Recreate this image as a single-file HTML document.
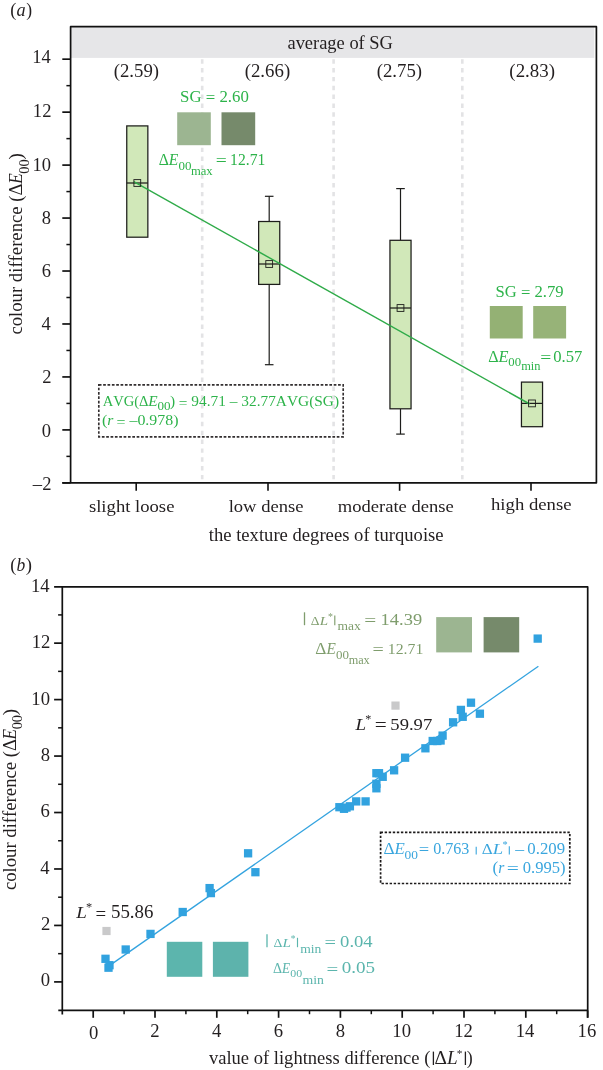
<!DOCTYPE html>
<html><head><meta charset="utf-8"><title>chart</title>
<style>html,body{margin:0;padding:0;background:#fff}svg{display:block;will-change:transform}text{font-family:"Liberation Serif",serif;font-kerning:none;font-variant-ligatures:none}</style></head>
<body>
<svg width="603" height="1070" viewBox="0 0 603 1070">
<rect width="603" height="1070" fill="#ffffff"/>
<rect x="70.60" y="26.70" width="523.70" height="31.20" fill="#e6e6e8"/>
<line x1="202.20" y1="59.20" x2="202.20" y2="482.80" stroke="#e3e3e5" stroke-width="2.6" stroke-dasharray="4.45 4.395"/>
<line x1="333.60" y1="59.20" x2="333.60" y2="482.80" stroke="#e3e3e5" stroke-width="2.6" stroke-dasharray="4.45 4.395"/>
<line x1="462.30" y1="59.20" x2="462.30" y2="482.80" stroke="#e3e3e5" stroke-width="2.6" stroke-dasharray="4.45 4.395"/>
<line x1="269.20" y1="196.30" x2="269.20" y2="221.50" stroke="#1d1d1b" stroke-width="1.2"/>
<line x1="269.20" y1="284.40" x2="269.20" y2="364.70" stroke="#1d1d1b" stroke-width="1.2"/>
<line x1="264.90" y1="196.30" x2="273.50" y2="196.30" stroke="#1d1d1b" stroke-width="1.2"/>
<line x1="264.90" y1="364.70" x2="273.50" y2="364.70" stroke="#1d1d1b" stroke-width="1.2"/>
<line x1="400.50" y1="188.60" x2="400.50" y2="240.30" stroke="#1d1d1b" stroke-width="1.2"/>
<line x1="400.50" y1="408.80" x2="400.50" y2="434.10" stroke="#1d1d1b" stroke-width="1.2"/>
<line x1="396.20" y1="188.60" x2="404.80" y2="188.60" stroke="#1d1d1b" stroke-width="1.2"/>
<line x1="396.20" y1="434.10" x2="404.80" y2="434.10" stroke="#1d1d1b" stroke-width="1.2"/>
<rect x="126.75" y="125.90" width="21.10" height="111.30" fill="#d1e8b9" stroke="#1d1d1b" stroke-width="1.25"/>
<line x1="126.75" y1="183.00" x2="147.85" y2="183.00" stroke="#1d1d1b" stroke-width="1.25"/>
<rect x="258.65" y="221.50" width="21.10" height="62.90" fill="#d1e8b9" stroke="#1d1d1b" stroke-width="1.25"/>
<line x1="258.65" y1="264.00" x2="279.75" y2="264.00" stroke="#1d1d1b" stroke-width="1.25"/>
<rect x="389.95" y="240.30" width="21.10" height="168.50" fill="#d1e8b9" stroke="#1d1d1b" stroke-width="1.25"/>
<line x1="389.95" y1="308.00" x2="411.05" y2="308.00" stroke="#1d1d1b" stroke-width="1.25"/>
<rect x="521.45" y="382.10" width="21.10" height="44.60" fill="#d1e8b9" stroke="#1d1d1b" stroke-width="1.25"/>
<line x1="521.45" y1="403.40" x2="542.55" y2="403.40" stroke="#1d1d1b" stroke-width="1.25"/>
<line x1="133.80" y1="181.60" x2="529.60" y2="404.00" stroke="#2fab49" stroke-width="1.45"/>
<rect x="133.90" y="179.60" width="6.80" height="6.80" fill="none" stroke="#1d1d1b" stroke-width="0.9"/>
<rect x="265.80" y="260.60" width="6.80" height="6.80" fill="none" stroke="#1d1d1b" stroke-width="0.9"/>
<rect x="397.10" y="304.60" width="6.80" height="6.80" fill="none" stroke="#1d1d1b" stroke-width="0.9"/>
<rect x="528.60" y="400.00" width="6.80" height="6.80" fill="none" stroke="#1d1d1b" stroke-width="0.9"/>
<rect x="177.20" y="112.30" width="33.60" height="32.90" fill="#9cb591"/>
<rect x="221.50" y="112.30" width="33.70" height="32.90" fill="#768a6b"/>
<rect x="489.80" y="306.00" width="32.90" height="32.50" fill="#94b174"/>
<rect x="533.20" y="306.00" width="32.90" height="32.50" fill="#97b378"/>
<path d="M62.30,482.80 L596.40,482.80 L596.40,26.70 L70.60,26.70 L70.60,482.80" fill="none" stroke="#111111" stroke-width="1.7" stroke-linejoin="round"/>
<line x1="62.30" y1="482.86" x2="70.60" y2="482.86" stroke="#111111" stroke-width="1.7"/>
<line x1="66.40" y1="456.38" x2="70.60" y2="456.38" stroke="#111111" stroke-width="1.5"/>
<line x1="62.30" y1="429.90" x2="70.60" y2="429.90" stroke="#111111" stroke-width="1.7"/>
<line x1="66.40" y1="403.42" x2="70.60" y2="403.42" stroke="#111111" stroke-width="1.5"/>
<line x1="62.30" y1="376.94" x2="70.60" y2="376.94" stroke="#111111" stroke-width="1.7"/>
<line x1="66.40" y1="350.46" x2="70.60" y2="350.46" stroke="#111111" stroke-width="1.5"/>
<line x1="62.30" y1="323.98" x2="70.60" y2="323.98" stroke="#111111" stroke-width="1.7"/>
<line x1="66.40" y1="297.50" x2="70.60" y2="297.50" stroke="#111111" stroke-width="1.5"/>
<line x1="62.30" y1="271.02" x2="70.60" y2="271.02" stroke="#111111" stroke-width="1.7"/>
<line x1="66.40" y1="244.54" x2="70.60" y2="244.54" stroke="#111111" stroke-width="1.5"/>
<line x1="62.30" y1="218.06" x2="70.60" y2="218.06" stroke="#111111" stroke-width="1.7"/>
<line x1="66.40" y1="191.58" x2="70.60" y2="191.58" stroke="#111111" stroke-width="1.5"/>
<line x1="62.30" y1="165.10" x2="70.60" y2="165.10" stroke="#111111" stroke-width="1.7"/>
<line x1="66.40" y1="138.62" x2="70.60" y2="138.62" stroke="#111111" stroke-width="1.5"/>
<line x1="62.30" y1="112.14" x2="70.60" y2="112.14" stroke="#111111" stroke-width="1.7"/>
<line x1="66.40" y1="85.66" x2="70.60" y2="85.66" stroke="#111111" stroke-width="1.5"/>
<line x1="62.30" y1="59.18" x2="70.60" y2="59.18" stroke="#111111" stroke-width="1.7"/>
<line x1="136.20" y1="482.80" x2="136.20" y2="490.80" stroke="#111111" stroke-width="1.6"/>
<line x1="268.00" y1="482.80" x2="268.00" y2="490.80" stroke="#111111" stroke-width="1.6"/>
<line x1="399.60" y1="482.80" x2="399.60" y2="490.80" stroke="#111111" stroke-width="1.6"/>
<line x1="531.00" y1="482.80" x2="531.00" y2="490.80" stroke="#111111" stroke-width="1.6"/>
<text transform="translate(32.13,63.30) scale(1.0200,1)" font-size="18.2" fill="#231f20">14</text>
<text transform="translate(32.86,117.20) scale(1.0200,1)" font-size="18.2" fill="#231f20">12</text>
<text transform="translate(32.54,170.50) scale(1.0200,1)" font-size="18.2" fill="#231f20">10</text>
<text transform="translate(41.83,224.00) scale(1.0200,1)" font-size="18.2" fill="#231f20">8</text>
<text transform="translate(41.67,277.00) scale(1.0200,1)" font-size="18.2" fill="#231f20">6</text>
<text transform="translate(41.41,330.20) scale(1.0200,1)" font-size="18.2" fill="#231f20">4</text>
<text transform="translate(42.14,383.40) scale(1.0200,1)" font-size="18.2" fill="#231f20">2</text>
<text transform="translate(41.83,436.60) scale(1.0200,1)" font-size="18.2" fill="#231f20">0</text>
<text transform="translate(32.86,490.00) scale(1.0200,1)" font-size="18.2" fill="#231f20">–2</text>
<text transform="translate(10.20,15.50) scale(1.0166,1)" font-size="18" fill="#231f20">(</text>
<text transform="translate(16.56,15.90) scale(0.9924,1)" font-size="18.4" font-style="italic" fill="#231f20">a</text>
<text transform="translate(26.24,15.50) scale(0.9734,1)" font-size="18" fill="#231f20">)</text>
<text transform="translate(287.45,49.00) scale(1.0250,1)" font-size="18.0" fill="#231f20">average of SG</text>
<text transform="translate(113.68,76.90) scale(1.0201,1)" font-size="18.4" fill="#231f20">(2.59)</text>
<text transform="translate(244.67,76.90) scale(1.0248,1)" font-size="18.4" fill="#231f20">(2.66)</text>
<text transform="translate(376.67,76.90) scale(1.0225,1)" font-size="18.4" fill="#231f20">(2.75)</text>
<text transform="translate(509.37,76.90) scale(1.0271,1)" font-size="18.4" fill="#231f20">(2.83)</text>
<text transform="translate(88.93,511.90) scale(1.0784,1)" font-size="17.3" fill="#231f20">slight loose</text>
<text transform="translate(228.63,511.90) scale(1.0754,1)" font-size="17.3" fill="#231f20">low dense</text>
<text transform="translate(337.71,511.90) scale(1.0746,1)" font-size="17.3" fill="#231f20">moderate dense</text>
<text transform="translate(491.02,509.50) scale(1.0814,1)" font-size="17.3" fill="#231f20">high dense</text>
<text transform="translate(208.72,540.80) scale(1.0248,1)" font-size="18.2" fill="#231f20">the texture degrees of turquoise</text>
<text transform="translate(22.20,334.61) rotate(-90) scale(1.0167,1)" font-size="18.4" fill="#231f20">colour difference (Δ</text>
<text transform="translate(22.20,184.09) rotate(-90) scale(0.9679,1)" font-size="18.4" font-style="italic" fill="#231f20">E</text>
<text transform="translate(28.50,173.75) rotate(-90) scale(1.0283,1)" font-size="14.0" fill="#231f20">00</text>
<text transform="translate(22.20,159.60) rotate(-90) scale(1.0157,1)" font-size="18.4" fill="#231f20">)</text>
<text transform="translate(180.07,101.80) scale(1.0017,1)" font-size="16.8" fill="#2db34a">SG <tspan dy="1.3">=</tspan><tspan dy="-1.3"> 2.60</tspan></text>
<text transform="translate(158.70,165.10) scale(0.9565,1)" font-size="16.4" fill="#2db34a">Δ</text>
<text transform="translate(168.68,165.10) scale(0.9552,1)" font-size="16.4" font-style="italic" fill="#2db34a">E</text>
<text transform="translate(178.41,169.80) scale(1.0475,1)" font-size="12.4" fill="#2db34a">00</text>
<text transform="translate(190.94,175.00) scale(1.0092,1)" font-size="12.5" fill="#2db34a">max</text>
<text transform="translate(215.63,165.10) scale(1.1781,1)" font-size="16.6" fill="#2db34a"><tspan dy="1.3">=</tspan></text>
<text transform="translate(230.12,165.10) scale(0.9782,1)" font-size="16.0" fill="#2db34a">12.71</text>
<text transform="translate(495.49,296.60) scale(0.9905,1)" font-size="16.8" fill="#2db34a">SG <tspan dy="1.3">=</tspan><tspan dy="-1.3"> 2.79</tspan></text>
<text transform="translate(488.29,361.50) scale(0.9780,1)" font-size="16.4" fill="#2db34a">Δ</text>
<text transform="translate(498.59,361.50) scale(0.9954,1)" font-size="16.4" font-style="italic" fill="#2db34a">E</text>
<text transform="translate(508.31,366.20) scale(1.0301,1)" font-size="12.4" fill="#2db34a">00</text>
<text transform="translate(521.14,370.40) scale(0.9950,1)" font-size="12.5" fill="#2db34a">min</text>
<text transform="translate(540.23,361.50) scale(1.1781,1)" font-size="16.6" fill="#2db34a"><tspan dy="1.3">=</tspan></text>
<text transform="translate(553.27,361.50) scale(1.0144,1)" font-size="16.4" fill="#2db34a">0.57</text>
<rect x="98.8" y="384.8" width="244.4" height="52.0" fill="none" stroke="#332f30" stroke-width="1.65" stroke-dasharray="2.7 1.65"/>
<text transform="translate(102.66,406.30) scale(0.9545,1)" font-size="15.3" fill="#2db34a">AVG(Δ</text>
<text transform="translate(148.18,406.30) scale(1.0023,1)" font-size="15.3" font-style="italic" fill="#2db34a">E</text>
<text transform="translate(157.40,410.30) scale(1.0915,1)" font-size="12.0" fill="#2db34a">00</text>
<text transform="translate(169.90,406.30) scale(1.0045,1)" font-size="15.3" fill="#2db34a">) <tspan dy="1.3">=</tspan><tspan dy="-1.3"> 94.71 – 32.77AVG(SG)</tspan></text>
<text transform="translate(102.08,425.40) scale(1.0688,1)" font-size="15.3" fill="#2db34a">(</text>
<text transform="translate(107.37,425.40) scale(1.0225,1)" font-size="15.3" font-style="italic" fill="#2db34a">r</text>
<text transform="translate(116.51,425.40) scale(1.0397,1)" font-size="15.3" fill="#2db34a"><tspan dy="1.3">=</tspan><tspan dy="-1.3"> –0.978)</tspan></text>
<line x1="109.80" y1="965.40" x2="538.40" y2="666.20" stroke="#33a3df" stroke-width="1.3"/>
<rect x="243.95" y="849.15" width="8.30" height="8.30" fill="#31a2df"/>
<rect x="251.25" y="868.05" width="8.30" height="8.30" fill="#31a2df"/>
<rect x="205.45" y="883.95" width="8.30" height="8.30" fill="#31a2df"/>
<rect x="206.75" y="888.95" width="8.30" height="8.30" fill="#31a2df"/>
<rect x="178.55" y="907.85" width="8.30" height="8.30" fill="#31a2df"/>
<rect x="146.35" y="929.75" width="8.30" height="8.30" fill="#31a2df"/>
<rect x="121.55" y="945.35" width="8.30" height="8.30" fill="#31a2df"/>
<rect x="101.35" y="954.65" width="8.30" height="8.30" fill="#31a2df"/>
<rect x="105.35" y="961.05" width="8.30" height="8.30" fill="#31a2df"/>
<rect x="104.35" y="963.55" width="8.30" height="8.30" fill="#31a2df"/>
<rect x="400.95" y="753.55" width="8.30" height="8.30" fill="#31a2df"/>
<rect x="389.95" y="766.15" width="8.30" height="8.30" fill="#31a2df"/>
<rect x="372.25" y="769.05" width="8.30" height="8.30" fill="#31a2df"/>
<rect x="374.85" y="769.05" width="8.30" height="8.30" fill="#31a2df"/>
<rect x="378.55" y="772.65" width="8.30" height="8.30" fill="#31a2df"/>
<rect x="372.25" y="779.65" width="8.30" height="8.30" fill="#31a2df"/>
<rect x="372.25" y="784.15" width="8.30" height="8.30" fill="#31a2df"/>
<rect x="361.45" y="797.25" width="8.30" height="8.30" fill="#31a2df"/>
<rect x="352.05" y="797.25" width="8.30" height="8.30" fill="#31a2df"/>
<rect x="335.25" y="803.05" width="8.30" height="8.30" fill="#31a2df"/>
<rect x="339.85" y="804.65" width="8.30" height="8.30" fill="#31a2df"/>
<rect x="345.75" y="802.15" width="8.30" height="8.30" fill="#31a2df"/>
<rect x="342.35" y="803.45" width="8.30" height="8.30" fill="#31a2df"/>
<rect x="421.25" y="744.15" width="8.30" height="8.30" fill="#31a2df"/>
<rect x="428.55" y="736.85" width="8.30" height="8.30" fill="#31a2df"/>
<rect x="433.15" y="736.85" width="8.30" height="8.30" fill="#31a2df"/>
<rect x="436.45" y="736.35" width="8.30" height="8.30" fill="#31a2df"/>
<rect x="438.45" y="731.45" width="8.30" height="8.30" fill="#31a2df"/>
<rect x="448.95" y="718.15" width="8.30" height="8.30" fill="#31a2df"/>
<rect x="456.75" y="705.75" width="8.30" height="8.30" fill="#31a2df"/>
<rect x="458.55" y="712.65" width="8.30" height="8.30" fill="#31a2df"/>
<rect x="466.85" y="698.55" width="8.30" height="8.30" fill="#31a2df"/>
<rect x="475.75" y="709.55" width="8.30" height="8.30" fill="#31a2df"/>
<rect x="533.55" y="634.45" width="8.30" height="8.30" fill="#31a2df"/>
<rect x="102.40" y="926.90" width="8.20" height="8.20" fill="#c9c9ca"/>
<rect x="391.40" y="701.50" width="8.20" height="8.20" fill="#c9c9ca"/>
<rect x="436.20" y="617.10" width="35.80" height="35.30" fill="#9cb591"/>
<rect x="483.60" y="617.10" width="35.60" height="35.30" fill="#768a6b"/>
<rect x="166.80" y="941.80" width="35.50" height="35.00" fill="#5cb5ad"/>
<rect x="212.90" y="941.80" width="35.50" height="35.00" fill="#5db3ac"/>
<path d="M54.10,586.90 L587.70,586.90 L587.70,1017.80 M587.70,1010.40 L58.30,1010.40 M62.30,1014.40 L62.30,586.90" fill="none" stroke="#111111" stroke-width="1.7" stroke-linejoin="round"/>
<line x1="54.10" y1="981.90" x2="62.30" y2="981.90" stroke="#111111" stroke-width="1.7"/>
<line x1="58.10" y1="953.67" x2="62.30" y2="953.67" stroke="#111111" stroke-width="1.5"/>
<line x1="54.10" y1="925.44" x2="62.30" y2="925.44" stroke="#111111" stroke-width="1.7"/>
<line x1="58.10" y1="897.21" x2="62.30" y2="897.21" stroke="#111111" stroke-width="1.5"/>
<line x1="54.10" y1="868.98" x2="62.30" y2="868.98" stroke="#111111" stroke-width="1.7"/>
<line x1="58.10" y1="840.75" x2="62.30" y2="840.75" stroke="#111111" stroke-width="1.5"/>
<line x1="54.10" y1="812.52" x2="62.30" y2="812.52" stroke="#111111" stroke-width="1.7"/>
<line x1="58.10" y1="784.29" x2="62.30" y2="784.29" stroke="#111111" stroke-width="1.5"/>
<line x1="54.10" y1="756.06" x2="62.30" y2="756.06" stroke="#111111" stroke-width="1.7"/>
<line x1="58.10" y1="727.83" x2="62.30" y2="727.83" stroke="#111111" stroke-width="1.5"/>
<line x1="54.10" y1="699.60" x2="62.30" y2="699.60" stroke="#111111" stroke-width="1.7"/>
<line x1="58.10" y1="671.37" x2="62.30" y2="671.37" stroke="#111111" stroke-width="1.5"/>
<line x1="54.10" y1="643.14" x2="62.30" y2="643.14" stroke="#111111" stroke-width="1.7"/>
<line x1="58.10" y1="614.91" x2="62.30" y2="614.91" stroke="#111111" stroke-width="1.5"/>
<line x1="93.20" y1="1010.40" x2="93.20" y2="1017.80" stroke="#111111" stroke-width="1.7"/>
<line x1="124.10" y1="1010.40" x2="124.10" y2="1014.20" stroke="#111111" stroke-width="1.5"/>
<line x1="155.00" y1="1010.40" x2="155.00" y2="1017.80" stroke="#111111" stroke-width="1.7"/>
<line x1="185.90" y1="1010.40" x2="185.90" y2="1014.20" stroke="#111111" stroke-width="1.5"/>
<line x1="216.80" y1="1010.40" x2="216.80" y2="1017.80" stroke="#111111" stroke-width="1.7"/>
<line x1="247.70" y1="1010.40" x2="247.70" y2="1014.20" stroke="#111111" stroke-width="1.5"/>
<line x1="278.60" y1="1010.40" x2="278.60" y2="1017.80" stroke="#111111" stroke-width="1.7"/>
<line x1="309.50" y1="1010.40" x2="309.50" y2="1014.20" stroke="#111111" stroke-width="1.5"/>
<line x1="340.40" y1="1010.40" x2="340.40" y2="1017.80" stroke="#111111" stroke-width="1.7"/>
<line x1="371.30" y1="1010.40" x2="371.30" y2="1014.20" stroke="#111111" stroke-width="1.5"/>
<line x1="402.20" y1="1010.40" x2="402.20" y2="1017.80" stroke="#111111" stroke-width="1.7"/>
<line x1="433.10" y1="1010.40" x2="433.10" y2="1014.20" stroke="#111111" stroke-width="1.5"/>
<line x1="464.00" y1="1010.40" x2="464.00" y2="1017.80" stroke="#111111" stroke-width="1.7"/>
<line x1="494.90" y1="1010.40" x2="494.90" y2="1014.20" stroke="#111111" stroke-width="1.5"/>
<line x1="525.80" y1="1010.40" x2="525.80" y2="1017.80" stroke="#111111" stroke-width="1.7"/>
<line x1="556.70" y1="1010.40" x2="556.70" y2="1014.20" stroke="#111111" stroke-width="1.5"/>
<line x1="587.60" y1="1010.40" x2="587.60" y2="1017.80" stroke="#111111" stroke-width="1.7"/>
<text transform="translate(40.68,986.40) scale(1.0200,1)" font-size="18.3" fill="#231f20">0</text>
<text transform="translate(41.00,930.07) scale(1.0200,1)" font-size="18.3" fill="#231f20">2</text>
<text transform="translate(40.26,873.74) scale(1.0200,1)" font-size="18.3" fill="#231f20">4</text>
<text transform="translate(40.52,817.42) scale(1.0200,1)" font-size="18.3" fill="#231f20">6</text>
<text transform="translate(40.68,761.09) scale(1.0200,1)" font-size="18.3" fill="#231f20">8</text>
<text transform="translate(31.34,704.76) scale(1.0200,1)" font-size="18.3" fill="#231f20">10</text>
<text transform="translate(31.66,648.43) scale(1.0200,1)" font-size="18.3" fill="#231f20">12</text>
<text transform="translate(30.93,592.10) scale(1.0200,1)" font-size="18.3" fill="#231f20">14</text>
<text transform="translate(89.03,1038.50) scale(1.0200,1)" font-size="18.3" fill="#231f20">0</text>
<text transform="translate(150.34,1037.00) scale(1.0200,1)" font-size="18.3" fill="#231f20">2</text>
<text transform="translate(212.00,1037.00) scale(1.0200,1)" font-size="18.3" fill="#231f20">4</text>
<text transform="translate(273.71,1037.00) scale(1.0200,1)" font-size="18.3" fill="#231f20">6</text>
<text transform="translate(335.63,1037.00) scale(1.0200,1)" font-size="18.3" fill="#231f20">8</text>
<text transform="translate(392.30,1037.00) scale(1.0200,1)" font-size="18.3" fill="#231f20">10</text>
<text transform="translate(454.26,1037.00) scale(1.0200,1)" font-size="18.3" fill="#231f20">12</text>
<text transform="translate(515.69,1037.00) scale(1.0200,1)" font-size="18.3" fill="#231f20">14</text>
<text transform="translate(577.62,1037.00) scale(1.0200,1)" font-size="18.3" fill="#231f20">16</text>
<text transform="translate(10.20,571.20) scale(1.0166,1)" font-size="18" fill="#231f20">(</text>
<text transform="translate(16.45,571.10) scale(0.9548,1)" font-size="18.4" font-style="italic" fill="#231f20">b</text>
<text transform="translate(25.80,571.20) scale(1.0383,1)" font-size="18" fill="#231f20">)</text>
<text transform="translate(16.00,890.11) rotate(-90) scale(1.0161,1)" font-size="18.4" fill="#231f20">colour difference (Δ</text>
<text transform="translate(16.00,739.69) rotate(-90) scale(0.9679,1)" font-size="18.4" font-style="italic" fill="#231f20">E</text>
<text transform="translate(22.20,729.35) rotate(-90) scale(1.0283,1)" font-size="14.0" fill="#231f20">00</text>
<text transform="translate(16.00,715.20) rotate(-90) scale(1.0157,1)" font-size="18.4" fill="#231f20">)</text>
<text transform="translate(208.90,1063.80) scale(1.0193,1)" font-size="18.2" fill="#231f20">value of lightness difference (</text>
<line x1="433.40" y1="1051.60" x2="433.40" y2="1065.00" stroke="#231f20" stroke-width="1.3"/>
<text transform="translate(434.46,1063.80) scale(1.0771,1)" font-size="18.0" fill="#231f20">Δ</text>
<text transform="translate(447.03,1063.80) scale(1.0673,1)" font-size="18.0" font-style="italic" fill="#231f20">L</text>
<text transform="translate(456.74,1057.37) scale(0.9996,1)" font-size="11.41" fill="#231f20">*</text>
<line x1="465.40" y1="1051.60" x2="465.40" y2="1065.00" stroke="#231f20" stroke-width="1.3"/>
<text transform="translate(466.82,1063.80) scale(0.9841,1)" font-size="18.2" fill="#231f20">)</text>
<text transform="translate(76.32,918.40) scale(1.0807,1)" font-size="17.6" font-style="italic" fill="#231f20">L</text>
<text transform="translate(85.89,911.02) scale(0.9998,1)" font-size="12.4" fill="#231f20">*</text>
<text transform="translate(95.56,918.40) scale(1.0617,1)" font-size="17.8" fill="#231f20"><tspan dy="1.3">=</tspan><tspan dy="-1.3"> 55.86</tspan></text>
<text transform="translate(355.52,729.50) scale(1.0807,1)" font-size="17.6" font-style="italic" fill="#231f20">L</text>
<text transform="translate(365.21,722.86) scale(0.9999,1)" font-size="12.15" fill="#231f20">*</text>
<text transform="translate(374.64,729.50) scale(1.1952,1)" font-size="17.8" fill="#231f20"><tspan dy="1.3">=</tspan></text>
<text transform="translate(390.32,729.50) scale(1.0586,1)" font-size="17.6" fill="#231f20">59.97</text>
<line x1="304.50" y1="612.30" x2="304.50" y2="625.20" stroke="#7f9d6d" stroke-width="1.3"/>
<text transform="translate(310.78,624.70) scale(1.0602,1)" font-size="12.8" fill="#7f9d6d">Δ</text>
<text transform="translate(319.78,624.70) scale(1.1707,1)" font-size="12.8" font-style="italic" fill="#7f9d6d">L</text>
<text transform="translate(327.92,619.59) scale(0.9998,1)" font-size="9.92" fill="#7f9d6d">*</text>
<line x1="334.80" y1="615.50" x2="334.80" y2="625.20" stroke="#7f9d6d" stroke-width="1.15"/>
<text transform="translate(337.52,630.20) scale(1.0433,1)" font-size="13.0" fill="#7f9d6d">max</text>
<text transform="translate(364.24,625.00) scale(1.2515,1)" font-size="17.0" fill="#7f9d6d"><tspan dy="1.3">=</tspan></text>
<text transform="translate(380.58,625.00) scale(1.1201,1)" font-size="16.5" fill="#7f9d6d">14.39</text>
<text transform="translate(315.34,653.60) scale(1.0795,1)" font-size="16.0" fill="#7f9d6d">Δ</text>
<text transform="translate(326.48,653.60) scale(0.9585,1)" font-size="16.0" font-style="italic" fill="#7f9d6d">E</text>
<text transform="translate(335.91,659.00) scale(1.0475,1)" font-size="12.4" fill="#7f9d6d">00</text>
<text transform="translate(348.64,663.50) scale(0.9730,1)" font-size="12.6" fill="#7f9d6d">max</text>
<text transform="translate(372.60,653.60) scale(1.2491,1)" font-size="16.0" fill="#7f9d6d"><tspan dy="1.3">=</tspan></text>
<text transform="translate(387.81,653.60) scale(1.0124,1)" font-size="15.6" fill="#7f9d6d">12.71</text>
<line x1="267.00" y1="934.20" x2="267.00" y2="947.20" stroke="#5bb5ad" stroke-width="1.3"/>
<text transform="translate(273.38,946.60) scale(1.0740,1)" font-size="12.8" fill="#5bb5ad">Δ</text>
<text transform="translate(282.58,946.60) scale(1.1857,1)" font-size="12.8" font-style="italic" fill="#5bb5ad">L</text>
<text transform="translate(290.74,941.67) scale(1.0002,1)" font-size="9.42" fill="#5bb5ad">*</text>
<line x1="297.50" y1="937.80" x2="297.50" y2="947.20" stroke="#5bb5ad" stroke-width="1.15"/>
<text transform="translate(300.21,952.70) scale(1.0320,1)" font-size="13.2" fill="#5bb5ad">min</text>
<text transform="translate(324.58,946.60) scale(1.2299,1)" font-size="16.6" fill="#5bb5ad"><tspan dy="1.3">=</tspan></text>
<text transform="translate(340.09,946.60) scale(1.1359,1)" font-size="16.4" fill="#5bb5ad">0.04</text>
<text transform="translate(272.96,973.40) scale(1.0368,1)" font-size="13.6" fill="#5bb5ad">Δ</text>
<text transform="translate(282.05,973.40) scale(0.9700,1)" font-size="13.6" font-style="italic" fill="#5bb5ad">E</text>
<text transform="translate(290.35,977.30) scale(1.0445,1)" font-size="11.4" fill="#5bb5ad">00</text>
<text transform="translate(302.51,984.30) scale(1.0420,1)" font-size="13.2" fill="#5bb5ad">min</text>
<text transform="translate(326.46,973.40) scale(1.2557,1)" font-size="16.6" fill="#5bb5ad"><tspan dy="1.3">=</tspan></text>
<text transform="translate(341.77,973.40) scale(1.1628,1)" font-size="16.4" fill="#5bb5ad">0.05</text>
<rect x="380.6" y="832.3" width="189.2" height="51.2" fill="none" stroke="#1c1a1a" stroke-width="1.7" stroke-dasharray="2.4 1.66"/>
<text transform="translate(383.54,853.90) scale(1.0662,1)" font-size="16.2" fill="#3aa6de">Δ</text>
<text transform="translate(394.60,853.90) scale(1.0382,1)" font-size="16.2" font-style="italic" fill="#3aa6de">E</text>
<text transform="translate(404.49,859.00) scale(1.0825,1)" font-size="12.4" fill="#3aa6de">00</text>
<text transform="translate(418.78,853.90) scale(1.1408,1)" font-size="16.2" fill="#3aa6de"><tspan dy="1.3">=</tspan></text>
<text transform="translate(433.19,853.90) scale(1.0067,1)" font-size="16.0" fill="#3aa6de">0.763</text>
<line x1="476.20" y1="846.70" x2="476.20" y2="854.50" stroke="#3aa6de" stroke-width="1.1"/>
<text transform="translate(481.76,853.90) scale(1.1669,1)" font-size="14.5" fill="#3aa6de">Δ</text>
<text transform="translate(492.82,853.90) scale(1.2852,1)" font-size="14.5" font-style="italic" fill="#3aa6de">L</text>
<text transform="translate(502.39,848.12) scale(1.0003,1)" font-size="10.41" fill="#3aa6de">*</text>
<line x1="509.30" y1="846.20" x2="509.30" y2="854.50" stroke="#3aa6de" stroke-width="1.1"/>
<text transform="translate(515.32,853.90) scale(1.0936,1)" font-size="16.2" fill="#3aa6de">–</text>
<text transform="translate(527.36,853.90) scale(1.0508,1)" font-size="16.0" fill="#3aa6de">0.209</text>
<text transform="translate(492.55,873.00) scale(1.0575,1)" font-size="16.2" fill="#3aa6de">(</text>
<text transform="translate(498.17,873.00) scale(0.9657,1)" font-size="16.2" font-style="italic" fill="#3aa6de">r</text>
<text transform="translate(506.83,873.00) scale(1.3265,1)" font-size="16.2" fill="#3aa6de"><tspan dy="1.3">=</tspan></text>
<text transform="translate(522.77,873.00) scale(1.0371,1)" font-size="16.0" fill="#3aa6de">0.995)</text>
</svg>
</body></html>
